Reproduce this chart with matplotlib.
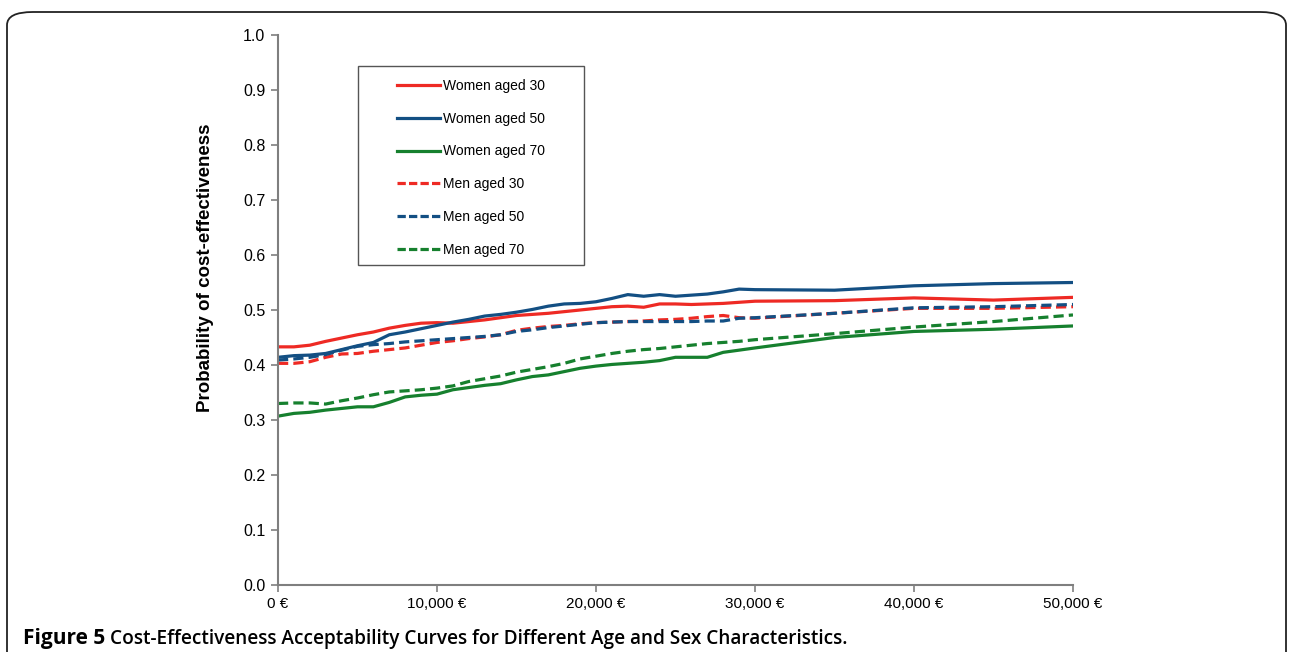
import numpy as np
import matplotlib.pyplot as plt
from matplotlib.patches import FancyBboxPatch, Rectangle
from matplotlib.lines import Line2D

wtp = [0, 1000, 2000, 3000, 4000, 5000, 6000, 7000, 8000, 9000, 10000,
       11000, 12000, 13000, 14000, 15000, 16000, 17000, 18000, 19000, 20000,
       21000, 22000, 23000, 24000, 25000, 26000, 27000, 28000, 29000, 30000,
       35000, 40000, 45000, 50000]

women_30 = [0.433, 0.433, 0.436, 0.443, 0.449, 0.455, 0.460, 0.467, 0.472, 0.476, 0.477,
            0.476, 0.479, 0.482, 0.486, 0.490, 0.492, 0.494, 0.497, 0.500, 0.503,
            0.506, 0.507, 0.505, 0.511, 0.511, 0.510, 0.511, 0.512, 0.514, 0.516,
            0.517, 0.522, 0.518, 0.523]
women_50 = [0.414, 0.417, 0.418, 0.421, 0.428, 0.435, 0.441, 0.455, 0.460, 0.466, 0.472,
            0.478, 0.483, 0.489, 0.492, 0.496, 0.501, 0.507, 0.511, 0.512, 0.515,
            0.521, 0.528, 0.525, 0.528, 0.525, 0.527, 0.529, 0.533, 0.538, 0.537,
            0.536, 0.544, 0.548, 0.550]
women_70 = [0.307, 0.312, 0.314, 0.318, 0.321, 0.324, 0.324, 0.332, 0.342, 0.345, 0.347,
            0.355, 0.359, 0.363, 0.366, 0.373, 0.379, 0.382, 0.388, 0.394, 0.398,
            0.401, 0.403, 0.405, 0.408, 0.414, 0.414, 0.414, 0.423, 0.427, 0.431,
            0.450, 0.461, 0.465, 0.471]
men_30 = [0.403, 0.403, 0.406, 0.414, 0.420, 0.421, 0.425, 0.428, 0.431, 0.436, 0.441,
          0.444, 0.448, 0.451, 0.455, 0.463, 0.467, 0.470, 0.472, 0.475, 0.477,
          0.478, 0.479, 0.480, 0.482, 0.483, 0.485, 0.488, 0.490, 0.486, 0.485,
          0.494, 0.503, 0.503, 0.506]
men_50 = [0.409, 0.411, 0.414, 0.419, 0.427, 0.434, 0.437, 0.439, 0.442, 0.444, 0.446,
          0.448, 0.450, 0.452, 0.455, 0.461, 0.464, 0.468, 0.471, 0.474, 0.477,
          0.478, 0.479, 0.479, 0.479, 0.479, 0.479, 0.480, 0.480, 0.485, 0.486,
          0.494, 0.504, 0.506, 0.510]
men_70 = [0.330, 0.331, 0.331, 0.329, 0.335, 0.340, 0.346, 0.351, 0.353, 0.355, 0.358,
          0.362, 0.370, 0.375, 0.380, 0.387, 0.392, 0.397, 0.403, 0.411, 0.416,
          0.421, 0.425, 0.428, 0.430, 0.433, 0.436, 0.439, 0.441, 0.443, 0.446,
          0.457, 0.469, 0.479, 0.491]

x_ticks = [0, 10000, 20000, 30000, 40000, 50000]
y_ticks = [0.0, 0.1, 0.2, 0.3, 0.4, 0.5, 0.6, 0.7, 0.8, 0.9, 1.0]

red = '#ee2a24'
blue = '#134f83'
green = '#16802e'
series = [
    ('Women aged 30', women_30, red, '-'),
    ('Women aged 50', women_50, blue, '-'),
    ('Women aged 70', women_70, green, '-'),
    ('Men aged 30', men_30, red, '--'),
    ('Men aged 50', men_50, blue, '--'),
    ('Men aged 70', men_70, green, '--'),
]

W, H = 1289, 652
fig = plt.figure(figsize=(W / 100, H / 100), dpi=100)
ax = fig.add_axes([278 / W, 1 - 585 / H, (1073 - 278) / W, (585 - 35) / H])

arial = ['Liberation Sans', 'DejaVu Sans']
narrow = ['Liberation Sans Narrow', 'Liberation Sans', 'DejaVu Sans']

for label, vals, color, ls in series:
    if ls == '--':
        ax.plot(wtp, vals, color=color, lw=2.3, dashes=(3.2, 1.6), label=label)
    else:
        ax.plot(wtp, vals, color=color, lw=2.3, label=label)

ax.set_xlim(0, 50000)
ax.set_ylim(0, 1.0)
ax.set_xticks(x_ticks)
ax.set_xticklabels([f'{v:,} €' for v in x_ticks], family=narrow, fontsize=11)
ax.set_yticks(y_ticks)
ax.set_yticklabels([f'{v:.1f}' for v in y_ticks], family=arial, fontsize=11.5)
ax.tick_params(axis='both', direction='out', length=5, width=1.2, color='#7f7f7f', pad=4)
for side in ['top', 'right']:
    ax.spines[side].set_visible(False)
for side in ['left', 'bottom']:
    ax.spines[side].set_color('#7f7f7f')
    ax.spines[side].set_linewidth(1.5)
ax.set_ylabel('Probability of cost-effectiveness', family=arial, fontsize=13.5,
              fontweight='bold', va='center')
ax.yaxis.set_label_coords((205 - 278) / 795, (585 - 268) / 550)

# legend box drawn separately so padding matches
x0, x1 = (358 - 278) / 795, (584 - 278) / 795
y0, y1 = (585 - 265) / 550, (585 - 66) / 550
ax.add_patch(Rectangle((x0, y0), x1 - x0, y1 - y0, transform=ax.transAxes,
                       fill=False, edgecolor='#555555', lw=1.0, zorder=5))
handles = []
for label, vals, color, ls in series:
    if ls == '--':
        handles.append(Line2D([], [], color=color, lw=2.3, dashes=(2.6, 1.0), label=label))
    else:
        handles.append(Line2D([], [], color=color, lw=2.3, label=label))
leg = ax.legend(handles=handles, loc='upper left', bbox_to_anchor=((397 - 278) / 795, (585 - 79) / 550),
                frameon=False, prop={'family': arial, 'size': 10}, handlelength=3.1,
                handletextpad=0.2, labelspacing=1.35, borderpad=0, borderaxespad=0)

# outer rounded frame
fig.add_artist(FancyBboxPatch((7 / W, -0.05), (1286 - 7) / W, (H - 12) / H + 0.05,
                              boxstyle='round,pad=0,rounding_size=0.02',
                              transform=fig.transFigure, fill=False,
                              edgecolor='#222222', lw=1.3, clip_on=False))

fig.text(23 / W, 1 - 644 / H, 'Figure 5', family='Open Sans', fontsize=15,
         fontweight='bold', va='baseline', ha='left')
fig.text(110 / W, 1 - 644 / H, 'Cost-Effectiveness Acceptability Curves for Different Age and Sex Characteristics.',
         family='Open Sans', fontsize=13.7, fontweight='semibold', va='baseline', ha='left')

plt.savefig('out.png', dpi=100)
plt.close()
